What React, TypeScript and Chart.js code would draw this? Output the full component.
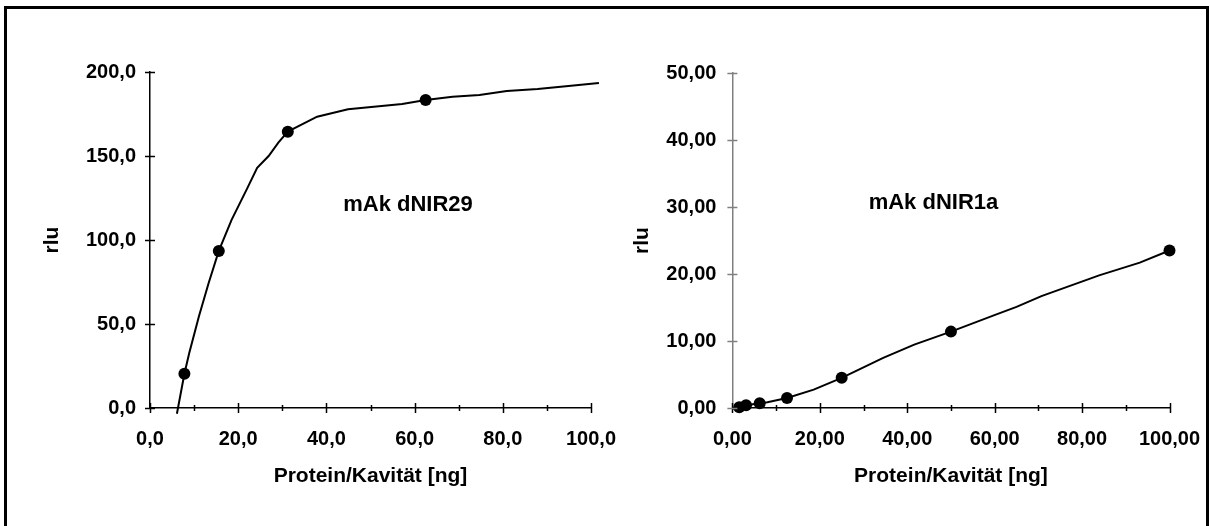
import React, { useEffect, useRef } from "react";
import { Chart, registerables } from "chart.js";

Chart.register(...registerables);

// ---------- Left chart: mAk dNIR29 ----------
const leftDotsX = [7.8, 15.6, 31.25, 62.5];
const leftDotsY = [20.4, 93.5, 164.5, 183.3];
const leftCurveX = [6.1, 7.8, 8.9, 11.1, 13.3, 15.6, 18.5, 22.1, 24.3, 26.9, 29.1, 31.25, 37.9, 44.9, 57.2, 62.5, 68.6, 74.7, 80.9, 87.9, 94.9, 101.8];
const leftCurveY = [-3.4, 20.4, 32.7, 54.6, 74.4, 93.5, 112, 131, 143, 150, 158, 164.5, 173.4, 177.8, 181, 183.3, 185.3, 186.3, 188.7, 189.9, 191.7, 193.5];
const leftYTicks = [0, 50, 100, 150, 200];
const leftLabel = "mAk dNIR29";
const leftLabelPos = [58.5, 121];

// ---------- Right chart: mAk dNIR1a ----------
const rightDotsX = [1.5625, 3.125, 6.25, 12.5, 25, 50, 100];
const rightDotsY = [0.1, 0.4, 0.7, 1.5, 4.5, 11.4, 23.5];
const rightCurveX = [0, 1.5625, 3.125, 6.25, 8, 12.5, 18.6, 25, 34.5, 41.6, 50, 60.1, 65, 70.7, 83.9, 93.2, 100, 102];
const rightCurveY = [-0.1, 0.1, 0.4, 0.7, 0.85, 1.5, 2.74, 4.5, 7.47, 9.46, 11.4, 13.9, 15.1, 16.7, 19.8, 21.7, 23.5, 23.9];
const rightYTicks = [0, 10, 20, 30, 40, 50];
const rightLabel = "mAk dNIR1a";
const rightLabelPos = [46, 30.6];

// ---------- shared ----------
const xMajorTicks = [0, 20, 40, 60, 80, 100];
const xMinorTicks = [10, 30, 50, 70, 90];
const xTitle = "Protein/Kavität [ng]";
const yTitle = "rlu";

const FONT = "'Liberation Sans', Arial, Helvetica, sans-serif";

const crossTicks = {
  id: "crossTicks",
  afterDraw(chart: any, _args: any, opts: any) {
    const { ctx, chartArea } = chart;
    const xs = chart.scales.x;
    const ys = chart.scales.y;
    ctx.save();
    ctx.lineWidth = 1.5;
    ctx.strokeStyle = "#000";
    const yb = chartArea.bottom;
    opts.xMajor.forEach((v: number) => {
      const px = Math.round(xs.getPixelForValue(v)) + 0.5;
      ctx.beginPath();
      ctx.moveTo(px, yb - 5);
      ctx.lineTo(px, yb + 5);
      ctx.stroke();
    });
    opts.xMinor.forEach((v: number) => {
      const px = Math.round(xs.getPixelForValue(v)) + 0.5;
      ctx.beginPath();
      ctx.moveTo(px, yb - 3);
      ctx.lineTo(px, yb + 3);
      ctx.stroke();
    });
    ctx.strokeStyle = opts.yColor;
    const xl = chartArea.left;
    opts.yTicks.forEach((v: number) => {
      const py = Math.round(ys.getPixelForValue(v)) + 0.5;
      ctx.beginPath();
      ctx.moveTo(xl - 5, py);
      ctx.lineTo(xl + 5, py);
      ctx.stroke();
    });
    ctx.fillStyle = "#000";
    ctx.font = `bold 22px ${FONT}`;
    ctx.textAlign = "center";
    ctx.textBaseline = "middle";
    ctx.fillText(opts.label, xs.getPixelForValue(opts.labelPos[0]), ys.getPixelForValue(opts.labelPos[1]));
    ctx.restore();
  },
};

function makeConfig(p: any): any {
  const pts = (xs: number[], ys: number[]) => xs.map((x, i) => ({ x, y: ys[i] }));
  return {
    type: "scatter",
    data: {
      datasets: [
        {
          data: pts(p.curveX, p.curveY),
          showLine: true,
          borderColor: "#000",
          borderWidth: 2,
          pointRadius: 0,
          tension: 0,
          clip: false,
        },
        {
          data: pts(p.dotsX, p.dotsY),
          showLine: false,
          pointRadius: 6,
          pointBackgroundColor: "#000",
          pointBorderColor: "#000",
          pointBorderWidth: 0,
          clip: false,
        },
      ],
    },
    plugins: [crossTicks],
    options: {
      animation: false,
      responsive: false,
      devicePixelRatio: 1,
      events: [],
      layout: { padding: { left: 0, top: p.top, right: p.right, bottom: 0 } },
      plugins: {
        legend: { display: false },
        tooltip: { enabled: false },
        crossTicks: {
          xMajor: xMajorTicks,
          xMinor: xMinorTicks,
          yTicks: p.yTicks,
          yColor: p.yColor,
          label: p.label,
          labelPos: p.labelPos,
        },
      },
      scales: {
        x: {
          type: "linear",
          min: 0,
          max: 100,
          grid: { display: false, drawTicks: false },
          border: { display: true, color: "#000", width: 1.5 },
          afterBuildTicks: (s: any) => {
            s.ticks = xMajorTicks.map((v) => ({ value: v }));
          },
          ticks: {
            padding: 19,
            maxRotation: 0,
            autoSkip: false,
            color: "#000",
            font: { family: FONT, size: 20, weight: "bold" },
            callback: (v: any) => Number(v).toFixed(p.decimals).replace(".", ","),
          },
          title: {
            display: true,
            text: xTitle,
            color: "#000",
            font: { family: FONT, size: 21, weight: "bold", lineHeight: 1.2 },
            padding: { top: 0, bottom: 37.4 },
          },
          afterFit: (s: any) => {
            s.height = p.height - p.axisY;
            s.paddingLeft = 0;
            s.paddingRight = 0;
          },
        },
        y: {
          type: "linear",
          min: 0,
          max: p.yMax,
          grid: { display: false, drawTicks: false },
          border: { display: true, color: p.yColor, width: 1.5 },
          afterBuildTicks: (s: any) => {
            s.ticks = p.yTicks.map((v: number) => ({ value: v }));
          },
          ticks: {
            padding: p.yPad,
            color: "#000",
            font: { family: FONT, size: 20, weight: "bold" },
            callback: (v: any) => Number(v).toFixed(p.decimals).replace(".", ","),
          },
          title: {
            display: true,
            text: yTitle,
            color: "#000",
            font: { family: FONT, size: 21, weight: "bold", lineHeight: 1.2 },
            padding: { top: p.yTitleOffset, bottom: 0 },
          },
          afterFit: (s: any) => {
            s.width = p.axisX;
            s.paddingTop = 0;
            s.paddingBottom = 0;
          },
        },
      },
    },
  };
}

function ChartBox(props: { left: number; width: number; height: number; params: any }) {
  const ref = useRef<HTMLCanvasElement>(null);
  useEffect(() => {
    const chart = new Chart(ref.current as HTMLCanvasElement, makeConfig(props.params));
    return () => chart.destroy();
  }, []);
  return (
    <div style={{ position: "absolute", left: props.left, top: 0, width: props.width, height: props.height }}>
      <canvas ref={ref} width={props.width} height={props.height} style={{ display: "block" }} />
    </div>
  );
}

export default function App() {
  const H = 526;
  const leftParams = {
    curveX: leftCurveX,
    curveY: leftCurveY,
    dotsX: leftDotsX,
    dotsY: leftDotsY,
    yTicks: leftYTicks,
    yMax: 200,
    decimals: 1,
    yColor: "#000",
    label: leftLabel,
    labelPos: leftLabelPos,
    top: 72,
    right: 640 - 591,
    height: H,
    axisY: 408,
    axisX: 150,
    yPad: 14,
    yTitleOffset: 39.4,
  };
  const rightParams = {
    curveX: rightCurveX,
    curveY: rightCurveY,
    dotsX: rightDotsX,
    dotsY: rightDotsY,
    yTicks: rightYTicks,
    yMax: 50,
    decimals: 2,
    yColor: "#808080",
    label: rightLabel,
    labelPos: rightLabelPos,
    top: 73,
    right: 610 - 569.5,
    height: H,
    axisY: 408,
    axisX: 132.4,
    yPad: 16,
    yTitleOffset: 29.4,
  };
  return (
    <div style={{ position: "absolute", left: 0, top: 0, width: 1210, height: H, overflow: "hidden", background: "#fff" }}>
      <div
        style={{
          position: "absolute",
          left: 4,
          top: 6,
          width: 1205,
          height: 560,
          border: "3px solid #000",
          boxSizing: "border-box",
        }}
      />
      <ChartBox left={0} width={640} height={H} params={leftParams} />
      <ChartBox left={600} width={610} height={H} params={rightParams} />
    </div>
  );
}
